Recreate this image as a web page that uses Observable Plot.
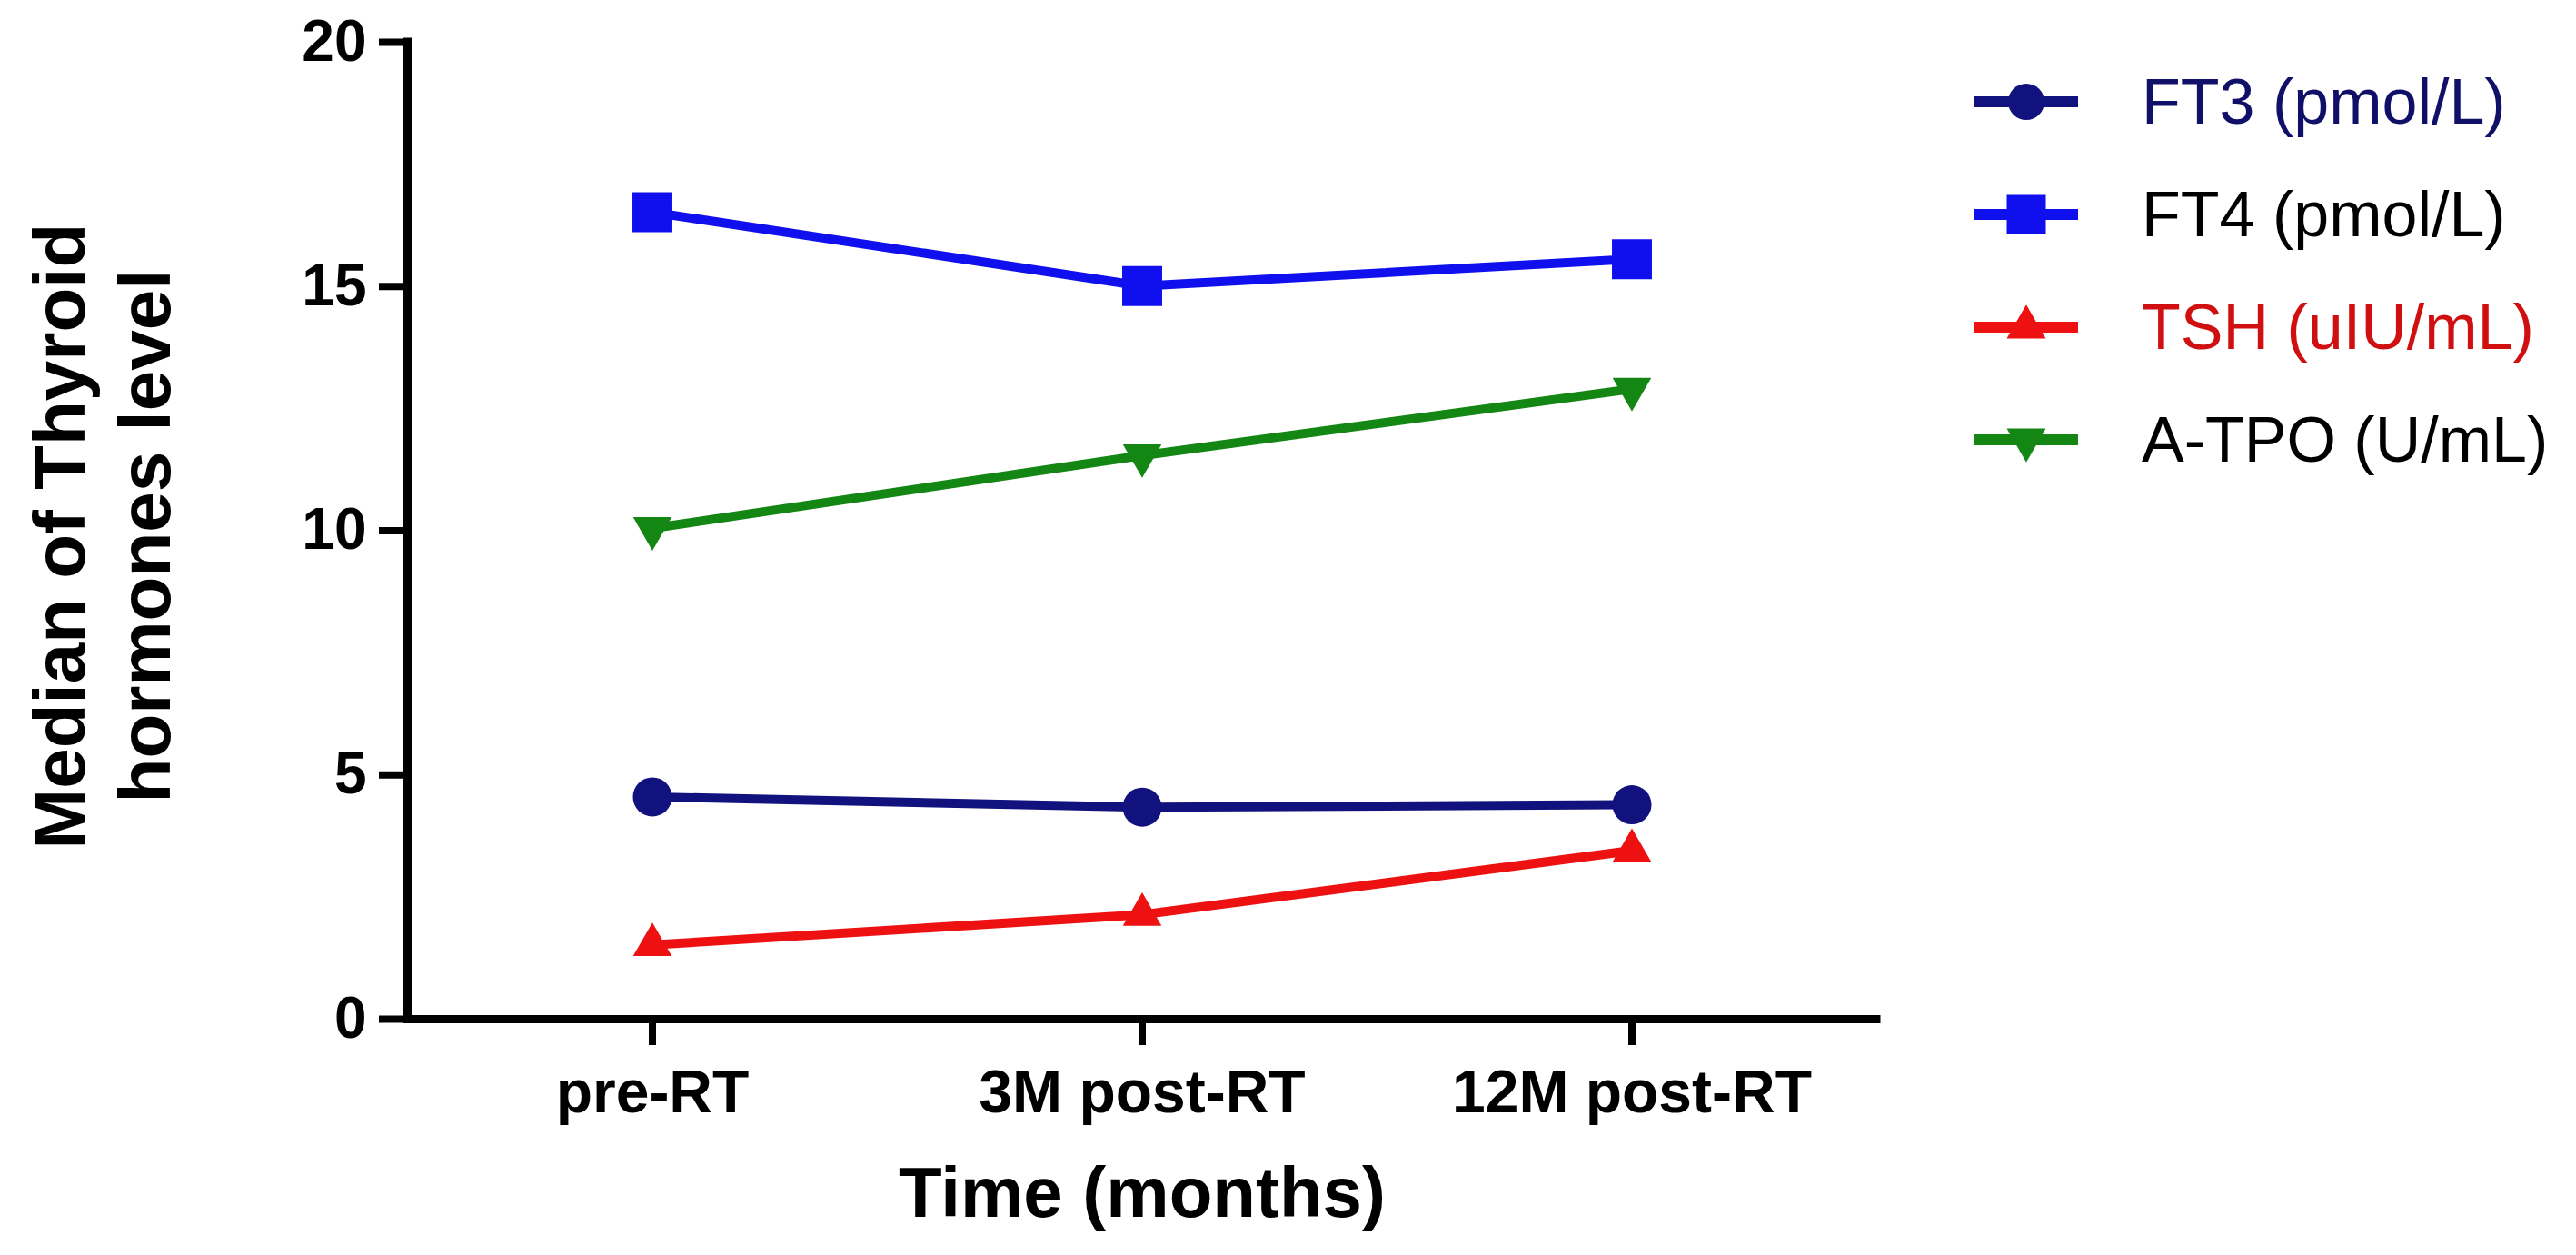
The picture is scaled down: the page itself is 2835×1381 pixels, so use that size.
<!DOCTYPE html>
<html>
<head>
<meta charset="utf-8">
<script src="https://cdn.jsdelivr.net/npm/d3@7"></script>
<script src="https://cdn.jsdelivr.net/npm/@observablehq/plot@0.6"></script>
<style>
  html, body { margin: 0; padding: 0; background: #ffffff; }
  #wrap { position: relative; width: 2835px; height: 1381px; font-family: "Liberation Sans", Arial, sans-serif; }
  #legend { position: absolute; left: 2172px; top: 50px; }
  .row { display: flex; align-items: center; height: 124px; }
  .row svg { display: block; }
  .row span { margin-left: 70px; font-size: 70px; white-space: nowrap; line-height: 1.15; }
</style>
</head>
<body>
<div id="wrap"><div id="legend"></div></div>
<script>
// ---- data ----
const categories = ["pre-RT", "3M post-RT", "12M post-RT"];
const seriesNames = ["FT3 (pmol/L)", "FT4 (pmol/L)", "TSH (uIU/mL)", "A-TPO (U/mL)"];
const ft3 = [4.55, 4.34, 4.39];
const ft4 = [16.52, 15.01, 15.56];
const tsh = [1.52, 2.14, 3.45];
const atpo = [10.05, 11.54, 12.9];
const yTicks = [0, 5, 10, 15, 20];
const xTitle = "Time (months)";
const yTitle = "Median of Thyroid\nhormones level";

// ---- styles ----
const seriesColors = ["#12127e", "#1010ee", "#ee1111", "#138613"];
const legendTextColors = ["#101068", "#000000", "#d01010", "#000000"];

const triangleDown = {
  draw(context, size) {
    const s3 = Math.sqrt(3);
    const y = -Math.sqrt(size / (s3 * 3));
    context.moveTo(0, -y * 2);
    context.lineTo(-s3 * y, y);
    context.lineTo(s3 * y, y);
    context.closePath();
  }
};
const symbols = [d3.symbolCircle, d3.symbolSquare, d3.symbolTriangle, triangleDown];
const radii = [21.5, 24.8, 15.8, 15.8];

const seriesValues = [ft3, ft4, tsh, atpo];
const rows = seriesNames.map((name, s) =>
  seriesValues[s].map((v, i) => ({series: name, i, value: v})));

const marks = [
  Plot.ruleY([0], {stroke: "#000", strokeWidth: 9, strokeLinecap: "square"}),
  Plot.ruleX([-0.5], {stroke: "#000", strokeWidth: 9, strokeLinecap: "square"}),
  Plot.axisY({ticks: yTicks, tickFormat: d => String(d), tickSize: 31, tickPadding: 14,
    fontSize: 64, fontWeight: "bold", strokeWidth: 8, label: null}),
  Plot.axisX({ticks: [0, 1, 2], tickFormat: i => categories[i], tickSize: 29, tickPadding: 27,
    fontSize: 66, fontWeight: "bold", strokeWidth: 8, label: null}),
];
rows.forEach((data, s) => {
  marks.push(Plot.line(data, {x: "i", y: "value", stroke: seriesColors[s], strokeWidth: 10}));
});
rows.forEach((data, s) => {
  marks.push(Plot.dot(data, {x: "i", y: "value", symbol: symbols[s], r: radii[s], fill: seriesColors[s]}));
});
marks.push(Plot.text([xTitle], {frameAnchor: "bottom", textAnchor: "middle", lineAnchor: "bottom", dy: 217,
  fontSize: 78, fontWeight: "bold", fill: "#000"}));
marks.push(Plot.text([yTitle], {frameAnchor: "left", textAnchor: "middle", rotate: -90, lineAnchor: "middle",
  lineHeight: 1.175, dx: -339, dy: 6, fontSize: 80, fontWeight: "bold", fill: "#000"}));

const chart = Plot.plot({
  width: 2835,
  height: 1381,
  marginLeft: 448,
  marginRight: 770,
  marginTop: 46,
  marginBottom: 260,
  x: {type: "linear", domain: [-0.5, 2.5]},
  y: {domain: [0, 20]},
  style: {fontFamily: "'Liberation Sans', Arial, sans-serif", color: "#000", background: "#fff"},
  marks
});
document.getElementById("wrap").prepend(chart);

// ---- legend ----
const legend = d3.select("#legend");
const legendSizes = [1257, 1849, 800, 800];
seriesNames.forEach((name, s) => {
  const row = legend.append("div").attr("class", "row");
  const sv = row.append("svg").attr("width", 115).attr("height", 50);
  sv.append("line").attr("x1", 0).attr("x2", 115).attr("y1", 25).attr("y2", 25)
    .attr("stroke", seriesColors[s]).attr("stroke-width", 12);
  sv.append("path").attr("transform", "translate(58,25)")
    .attr("d", d3.symbol(symbols[s], legendSizes[s])())
    .attr("fill", seriesColors[s]);
  row.append("span").style("color", legendTextColors[s]).text(name);
});
</script>
</body>
</html>
